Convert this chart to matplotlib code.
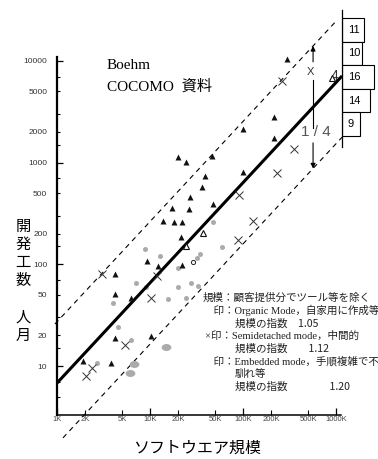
import numpy as np
import matplotlib
matplotlib.use("Agg")
import matplotlib.pyplot as plt
from matplotlib.ticker import FixedLocator, FuncFormatter

JP = "Noto Sans CJK JP"
SERIF_JP = ["Liberation Serif", JP]
SANS = "Liberation Sans"

# size in K lines, effort in man-months
tri_size = [20.0, 24.4, 46.4, 100, 100, 297, 215, 215, 39.0, 36.2, 26.9, 17.2, 26.3, 47.6,
            13.8, 18.1, 22.1, 21.5, 22.1, 9.29, 12.2, 4.2, 4.2, 6.25, 4.2, 10.25, 1.9, 3.8]
tri_effort = [1135, 1014, 1161, 2138, 809, 10440, 2807, 1745, 738, 575, 459, 358, 350, 392,
              267, 261, 261, 185, 98.4, 107.7, 96.2, 80.3, 51, 46.6, 18.8, 19.7, 11.2, 10.7]

open_tri_size = [37.2, 24.4, 906]
open_tri_effort = [203, 151, 6790]

x_size = [262, 353, 232, 90.6, 128, 88.3, 11.9, 3.05, 10.25, 5.39, 2.38, 2.05]
x_effort = [6340, 1361, 790, 480, 267, 173, 76.7, 80.3, 46.6, 16.1, 9.55, 7.97]

gray_size = [8.84, 12.8, 47.6, 59.4, 34.5, 32.0, 7.07, 9.06, 4.0, 15.6, 24.4, 20.0, 27.6,
             32.8, 20.0, 4.53, 6.25, 2.69]
gray_effort = [141, 121, 261, 148, 126, 115, 65.5, 59.8, 41.6, 45.6, 46.6, 59.8, 65.5,
               61.2, 92, 24.2, 18.0, 10.7]
gray_big_size = [14.9, 6.73, 6.1]
gray_big_effort = [15.4, 10.5, 8.53]

dot_size = [29.0]
dot_effort = [105]

# effort = fit_base * size^fit_exp, band of x4 / x1/4
fit_base = 6.8
fit_exp = 0.985
band = 4

# projects per band (top to bottom)
band_counts = [11, 10, 16, 14, 9]

y_major = [10, 100, 1000, 10000]
y_minor = [5, 7, 15, 20, 30, 50, 70, 150, 200, 300, 500, 700, 1500, 2000, 3000, 5000, 7000]
y_minor_labels = [20, 50, 200, 500, 2000, 5000]
x_major = [1, 10, 100, 1000]
x_minor = [2, 5, 20, 50, 200, 500]


def fit(k):
    return fit_base * np.power(k, fit_exp)


W, H = 378, 459
fig = plt.figure(figsize=(W / 100, H / 100), dpi=100)


def box(x0, y0, x1, y1):
    return [x0 / W, 1 - y1 / H, (x1 - x0) / W, (y1 - y0) / H]


ax = fig.add_axes(box(57, 57, 341, 415))
ax.set_xscale("log")
ax.set_yscale("log")
ax.set_xlim(1, 1130)
ax.set_ylim(3.3, 10900)
ax.patch.set_visible(False)
for s in ("top", "right"):
    ax.spines[s].set_visible(False)
ax.spines["left"].set_linewidth(1.6)
ax.spines["bottom"].set_linewidth(1.1)

ax.yaxis.set_major_locator(FixedLocator(y_major))
ax.yaxis.set_minor_locator(FixedLocator(y_minor))
ax.yaxis.set_major_formatter(FuncFormatter(lambda v, p: f"{v:g}"))
ax.yaxis.set_minor_formatter(FuncFormatter(lambda v, p: f"{v:g}" if round(v) in y_minor_labels else ""))
ax.xaxis.set_major_locator(FixedLocator(x_major))
ax.xaxis.set_minor_locator(FixedLocator(x_minor))
ax.xaxis.set_major_formatter(FuncFormatter(lambda v, p: f"{v:g}K"))
ax.xaxis.set_minor_formatter(FuncFormatter(lambda v, p: f"{v:g}K"))
ax.tick_params(axis="y", which="major", direction="in", length=4, width=0.9, pad=7,
               labelsize=6, labelcolor="#333")
ax.tick_params(axis="y", which="minor", direction="in", length=2.5, width=0.8, pad=7,
               labelsize=6, labelcolor="#333")
ax.tick_params(axis="x", which="major", direction="in", length=5, width=0.9, pad=1,
               labelsize=5.5, labelcolor="#444")
ax.tick_params(axis="x", which="minor", direction="in", length=3.5, width=0.8, pad=1,
               labelsize=5.5, labelcolor="#444")
for lab in ax.get_xticklabels(which="both") + ax.get_yticklabels(which="both"):
    lab.set_family(SANS)

# regression line and x4 band
xs = np.geomspace(1, 1160, 60)
ax.plot(xs, fit(xs), color="black", lw=2.2, solid_capstyle="butt", clip_on=False, zorder=3)
xu = np.geomspace(0.95, 1025, 60)
ax.plot(xu, fit(xu) * band, color="black", lw=0.8, dashes=(4.5, 4), clip_on=False)
xl = np.geomspace(1.16, 1160, 60)
ax.plot(xl, fit(xl) / band, color="black", lw=0.8, dashes=(4.5, 4), clip_on=False)

# flattened blob marker for the larger grey points
t = np.linspace(0, 2 * np.pi, 40)
blob = np.column_stack([1.4 * np.cos(t), np.sin(t)])

# projects
ax.plot(gray_size, gray_effort, "o", color="#ababab", ms=3.6, mec="none", clip_on=False)
ax.plot(gray_big_size, gray_big_effort, marker=blob, ls="none", color="#ababab", ms=7,
        mec="none", clip_on=False)
ax.plot(tri_size, tri_effort, "^", color="#111", ms=5, mec="none", clip_on=False, zorder=4)
ax.plot(open_tri_size, open_tri_effort, "^", mfc="white", mec="#111", mew=0.8, ms=5,
        clip_on=False, zorder=4)
ax.plot(x_size, x_effort, "x", color="#333", ms=6, mew=0.7, clip_on=False, zorder=4)
ax.plot(dot_size, dot_effort, "o", mfc="white", mec="#222", mew=0.7, ms=3, clip_on=False, zorder=4)

# x4 / 1/4 arrow
xa = 566
arrow = dict(arrowstyle="-|>", lw=0.8, color="black", mutation_scale=7, shrinkA=0, shrinkB=0)
ax.annotate("", xy=(xa, fit(xa) * band), xytext=(xa, fit(xa) * 2.79),
            arrowprops=arrow, annotation_clip=False)
ax.annotate("", xy=(xa, fit(xa) / band), xytext=(xa, fit(xa) * 0.446),
            arrowprops=arrow, annotation_clip=False)
ax.plot([xa, xa], [fit(xa) * 1.85, fit(xa) * 0.626], color="black", lw=0.8, clip_on=False)
ax.text(xa * 0.93, fit(xa) * 2.22, "X", ha="center", va="center", fontsize=8,
        family=SANS, color="#333")
ax.text(951, fit(951) * 1.22, "4", ha="center", va="center", fontsize=10,
        family=SANS, color="#333")
ax.text(610, fit(610) * 0.53, "1 / 4", ha="center", va="center", fontsize=11,
        family=SANS, color="#555")

# band histogram on the right
hax = fig.add_axes(box(342, 10, 378, 147))
pos = np.arange(len(band_counts))
hax.barh(pos, band_counts, height=1, color="white", edgecolor="black", lw=0.8)
hax.set_xlim(0, 18)
hax.set_ylim(4.5 + 11 / 23.6, -0.5 - 8 / 23.6)
for s in ("top", "right", "bottom"):
    hax.spines[s].set_visible(False)
hax.spines["left"].set_linewidth(0.9)
hax.set_xticks([])
hax.set_yticks([])
hax.patch.set_visible(False)
for p, c in zip(pos, band_counts):
    hax.text(3, p, str(c), ha="left", va="center", fontsize=8, family=SANS)

# titles and axis labels
fig.text(107 / W, 1 - 66 / H, "Boehm", family=SERIF_JP, fontsize=11, va="center")
fig.text(107 / W, 1 - 87 / H, "COCOMO  資料", family=SERIF_JP, fontsize=11, va="center")

ylab_pos = [226, 244, 262, 280, 317, 335]
for ch, yp in zip("開発工数人月", ylab_pos):
    fig.text(23 / W, 1 - yp / H, ch, family=JP, fontsize=11, ha="center", va="center")
fig.text(197 / W, 1 - 448 / H, "ソフトウエア規模", family=JP, fontsize=11.5,
         ha="center", va="center")

notes = [
    (0, "規模：顧客提供分でツール等を除く"),
    (0, "　印：Organic Mode，自家用に作成等"),
    (3, "規模の指数　1.05"),
    (0.2, "×印：Semidetached mode，中間的"),
    (3, "規模の指数　　1.12"),
    (0, "　印：Embedded mode，手順複雑で不"),
    (3, "馴れ等"),
    (3, "規模の指数　　　　1.20"),
]
for i, (ind, txt) in enumerate(notes):
    fam = [JP] if txt.startswith("規模の") else SERIF_JP
    fig.text((203 + ind * 10.6) / W, 1 - (298 + i * 12.7) / H, txt, family=fam,
             fontsize=7.6, ha="left", va="center", color="#222")

fig.savefig("out.png", dpi=100)
